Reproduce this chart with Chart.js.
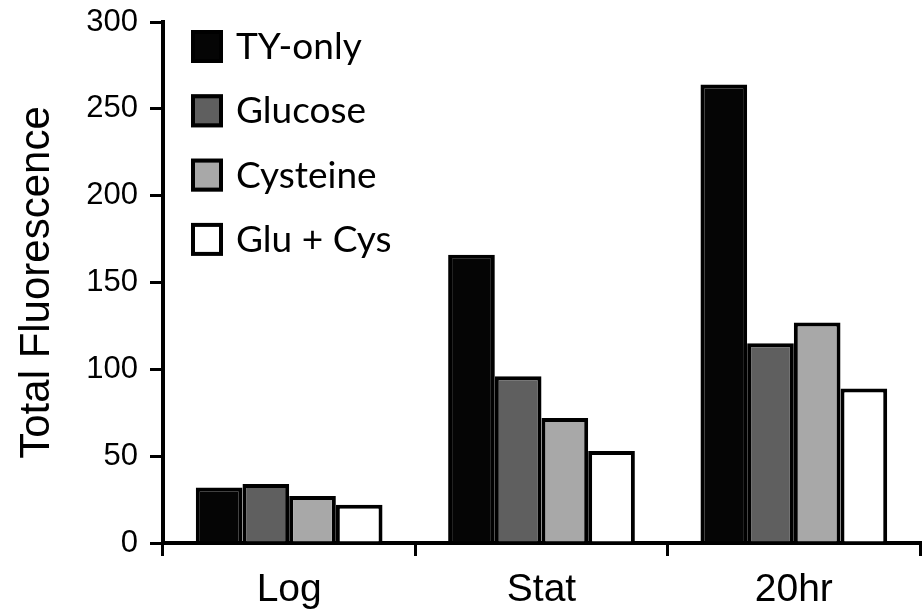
<!DOCTYPE html>
<html>
<head>
<meta charset="utf-8">
<script src="https://cdn.jsdelivr.net/npm/chart.js@4/dist/chart.umd.min.js"></script>
<style>
  html, body { margin: 0; padding: 0; background: #fff; }
  #wrap { width: 923px; height: 616px; }
</style>
</head>
<body>
<div id="wrap"><canvas id="chart" width="923" height="616"></canvas></div>
<script>
// values
const categories = ['Log', 'Stat', '20hr'];
const seriesNames = ['TY-only', 'Glucose', 'Cysteine', 'Glu + Cys'];
const tyOnly = [32, 166, 264];
const glucose = [34, 96, 115];
const cysteine = [27, 72, 127];
const gluCys = [22, 53, 89];
const seriesColors = ['#050505', '#5f5f5f', '#a8a8a8', '#ffffff'];
const yTicks = [0, 50, 100, 150, 200, 250, 300];

const allSeries = [tyOnly, glucose, cysteine, gluCys];

// legend drawn in the plot's top-left corner, stacked boxes
const boxLegend = {
    id: 'boxLegend',
    afterDraw(chart) {
        const ctx = chart.ctx;
        const x0 = 191;
        ctx.save();
        ctx.font = '37px Lato';
        ctx.textBaseline = 'middle';
        chart.data.datasets.forEach((ds, i) => {
            const top = 30 + i * 64.3;
            ctx.fillStyle = ds.backgroundColor;
            ctx.fillRect(x0, top, 32, 33);
            ctx.lineWidth = 4;
            ctx.strokeStyle = '#000';
            ctx.strokeRect(x0 + 2, top + 2, 28, 29);
            ctx.fillStyle = '#000';
            ctx.fillText(ds.label, x0 + 45, top + 17);
        });
        ctx.restore();
    }
};

new Chart(document.getElementById('chart'), {
    type: 'bar',
    data: {
        labels: categories,
        datasets: allSeries.map((vals, i) => ({
            label: seriesNames[i],
            data: vals,
            backgroundColor: seriesColors[i],
            borderColor: '#000',
            borderWidth: 4,
            categoryPercentage: 0.74,
            barPercentage: 1.0
        }))
    },
    options: {
        responsive: false,
        animation: false,
        layout: { padding: { top: 0, right: 3, left: 0, bottom: 0 } },
        plugins: { legend: { display: false }, tooltip: { enabled: false } },
        scales: {
            x: {
                grid: { display: true, offset: true, drawOnChartArea: false, color: '#000', lineWidth: 3, tickLength: 13 },
                border: { display: true, color: '#000', width: 4 },
                ticks: { color: '#000', padding: 11, font: { family: 'Liberation Sans', size: 39 } },
                afterFit(scale) { scale.height = 73; }
            },
            y: {
                min: 0,
                max: 300,
                afterBuildTicks(scale) { scale.ticks = yTicks.map(v => ({ value: v })); },
                grid: { display: true, drawOnChartArea: false, color: '#000', lineWidth: 3, tickLength: 13 },
                border: { display: true, color: '#000', width: 4 },
                ticks: { color: '#000', padding: 12, font: { family: 'Liberation Sans', size: 31 } },
                title: { display: true, text: 'Total Fluorescence', color: '#000', padding: { top: 12, bottom: 0 }, font: { family: 'Liberation Sans', size: 42 } },
                afterFit(scale) {
                    scale.width = 163;
                    scale.paddingTop = 22;
                    scale.paddingBottom = 0;
                }
            }
        }
    },
    plugins: [boxLegend]
});
</script>
</body>
</html>
